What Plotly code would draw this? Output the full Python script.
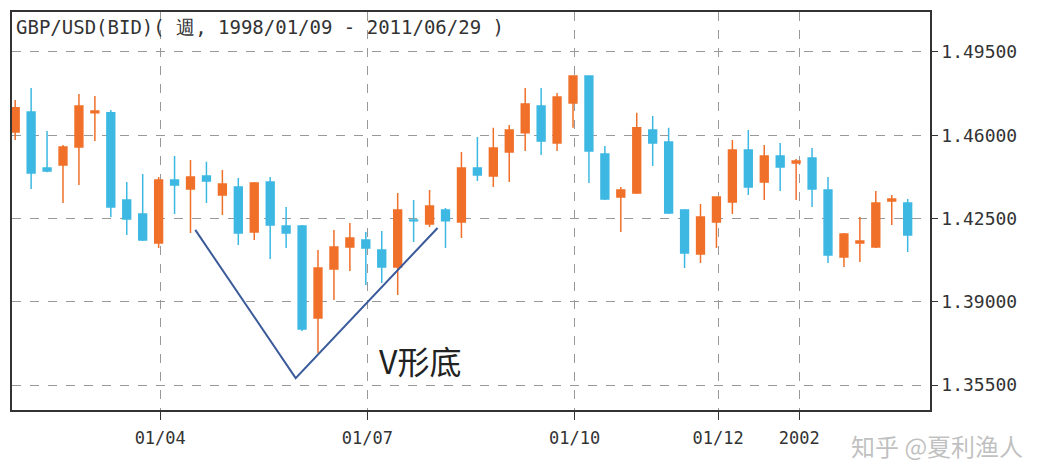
"""GBP/USD weekly candles with a V bottom"""

from plotly.graph_objects import Candlestick, Scatter, Figure

# weekly candles, index 0..56
opens = [1.4614, 1.4698, 1.4462, 1.4475, 1.4551, 1.4694, 1.4694, 1.4328, 1.4269, 1.4147,
         1.4412, 1.4374, 1.4429, 1.4349, 1.4382, 1.4193, 1.4403, 1.4218, 1.4218, 1.3832,
         1.4038, 1.4130, 1.4160, 1.4118, 1.4046, 1.4244, 1.4227, 1.4286, 1.4235, 1.4462,
         1.4429, 1.4530, 1.4610, 1.4723, 1.4567, 1.4736, 1.4849, 1.4521, 1.4340, 1.4357,
         1.4622, 1.4572, 1.4286, 1.4101, 1.4235, 1.4319, 1.4538, 1.4403, 1.4513, 1.4483,
         1.4504, 1.4370, 1.4088, 1.4147, 1.4130, 1.4324, 1.4315]
highs = [1.4748, 1.4799, 1.4618, 1.4559, 1.4773, 1.4765, 1.4706, 1.4403, 1.4437, 1.4424,
         1.4513, 1.4496, 1.4488, 1.4454, 1.4420, 1.4403, 1.4424, 1.4298, 1.4223, 1.4118,
         1.4202, 1.4231, 1.4193, 1.4197, 1.4357, 1.4328, 1.4370, 1.4294, 1.4530, 1.4593,
         1.4631, 1.4643, 1.4799, 1.4799, 1.4778, 1.4849, 1.4849, 1.4555, 1.4382, 1.4694,
         1.4681, 1.4631, 1.4290, 1.4311, 1.4340, 1.4580, 1.4622, 1.4559, 1.4567, 1.4500,
         1.4546, 1.4424, 1.4189, 1.4256, 1.4366, 1.4349, 1.4332]
lows = [1.4580, 1.4374, 1.4444, 1.4315, 1.4391, 1.4576, 1.4256, 1.4181, 1.4155, 1.4126,
        1.4269, 1.4189, 1.4315, 1.4265, 1.4139, 1.4160, 1.4080, 1.4126, 1.3777, 1.3685,
        1.3907, 1.4029, 1.3970, 1.3979, 1.3928, 1.4151, 1.4214, 1.4126, 1.4168, 1.4408,
        1.4382, 1.4403, 1.4534, 1.4517, 1.4534, 1.4631, 1.4399, 1.4328, 1.4193, 1.4353,
        1.4471, 1.4269, 1.4042, 1.4063, 1.4126, 1.4269, 1.4349, 1.4328, 1.4366, 1.4328,
        1.4298, 1.4063, 1.4046, 1.4067, 1.4126, 1.4223, 1.4109]
closes = [1.4715, 1.4441, 1.4450, 1.4551, 1.4723, 1.4702, 1.4298, 1.4248, 1.4160, 1.4412,
          1.4391, 1.4424, 1.4408, 1.4395, 1.4189, 1.4399, 1.4223, 1.4189, 1.3786, 1.4042,
          1.4130, 1.4168, 1.4126, 1.4046, 1.4286, 1.4240, 1.4303, 1.4240, 1.4462, 1.4433,
          1.4546, 1.4622, 1.4731, 1.4576, 1.4761, 1.4849, 1.4534, 1.4332, 1.4370, 1.4631,
          1.4567, 1.4273, 1.4105, 1.4256, 1.4340, 1.4538, 1.4382, 1.4513, 1.4466, 1.4492,
          1.4374, 1.4097, 1.4185, 1.4155, 1.4315, 1.4332, 1.4181]

tick_pos = [9.1, 22.1, 35.1, 44.1, 49.2]
tick_text = ["01/04", "01/07", "01/10", "01/12", "2002"]
price_ticks = [1.355, 1.39, 1.425, 1.46, 1.495]

# V shape
v_x = [11.3, 17.6, 26.5]
v_y = [1.4202, 1.3579, 1.4210]

ORANGE = "#F0702A"
BLUE = "#3DB8E2"
MONO = "DejaVu Sans Mono"

x = list(range(len(opens)))
fig = Figure()
fig.add_trace(Candlestick(
    x=x, open=opens, high=highs, low=lows, close=closes,
    increasing=dict(line=dict(color=ORANGE, width=1.5), fillcolor=ORANGE),
    decreasing=dict(line=dict(color=BLUE, width=1.5), fillcolor=BLUE),
    whiskerwidth=0, showlegend=False))
fig.add_trace(Scatter(x=v_x, y=v_y, mode="lines",
                      line=dict(color="#3A5A9A", width=2), showlegend=False))

fig.update_layout(
    width=1048, height=470,
    margin=dict(l=4, r=126, t=4, b=68, pad=0, autoexpand=False),
    paper_bgcolor="white", plot_bgcolor="white",
    font=dict(family=MONO, color="#333"),
    xaxis=dict(range=[-0.2, 57.4], tickvals=tick_pos, ticktext=tick_text,
               rangeslider=dict(visible=False), showgrid=True,
               gridcolor="#999", griddash="dash", gridwidth=1,
               ticks="outside", ticklen=8, tickcolor="#333", ticklabelstandoff=4,
               showline=True, linecolor="#333", mirror=True, linewidth=1.5,
               tickfont=dict(size=17), zeroline=False),
    yaxis=dict(range=[1.3445, 1.5118], side="right", tickvals=price_ticks,
               tickformat=".5f", showgrid=True, gridcolor="#999", griddash="dash",
               ticks="outside", ticklen=6, tickcolor="#333",
               showline=True, linecolor="#333", mirror=True, linewidth=1.5,
               tickfont=dict(size=18), zeroline=False),
)
fig.add_annotation(x=0, y=1, xref="paper", yref="paper", xanchor="left", yanchor="top",
                   text="GBP/USD(BID)( 週, 1998/01/09 - 2011/06/29 )", showarrow=False,
                   font=dict(size=19, color="#333"), xshift=2, yshift=-2)
fig.add_annotation(x=25.4, y=1.3655, text="V形底", showarrow=False,
                   font=dict(size=32, color="#222", family="Noto Sans CJK SC"))
fig.add_annotation(x=1.0, y=-0.04, xref="paper", yref="paper", xanchor="right", yanchor="top",
                   text="知乎 @夏利渔人", showarrow=False, xshift=95,
                   font=dict(size=24, color="rgba(150,150,150,0.6)", family="Noto Sans CJK SC"))

fig.write_html("out.html")
